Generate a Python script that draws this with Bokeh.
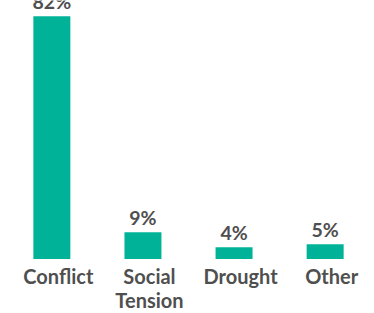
from bokeh.plotting import figure
from bokeh.models import ColumnDataSource, Range1d
from bokeh.embed import file_html
from bokeh.resources import INLINE
from bokeh.core.properties import value

categories = ["Conflict", "Social\nTension", "Drought", "Other"]
values = [82, 9, 4, 5]
value_labels = ["82%", "9%", "4%", "5%"]

BAR_COLOR = "#00b398"
TEXT_COLOR = "#4f4f4f"
FONT = "Lato"

xs = list(range(len(categories)))

p = figure(width=374, height=313, output_backend="svg", toolbar_location=None,
           x_range=Range1d(-0.5637, 3.5417), y_range=Range1d(-18.41, 87.30),
           min_border=0)
p.axis.visible = False
p.grid.visible = False
p.outline_line_color = None
p.background_fill_color = "white"
p.border_fill_color = "white"

src = ColumnDataSource(dict(x=xs, top=values, lab=value_labels))
p.vbar(x="x", top="top", bottom=0, width=0.406, source=src,
       fill_color=BAR_COLOR, line_color=None)

p.text(x="x", y="top", text="lab", source=src, text_align="center",
       text_baseline="alphabetic", y_offset=-15, text_font=value(FONT),
       text_font_style="bold", text_font_size="19.5px", text_color=TEXT_COLOR)

# category labels, one glyph row per line
lx, ly, lt, loff = [], [], [], []
for i, c in enumerate(categories):
    for j, line in enumerate(c.split("\n")):
        lx.append(i)
        ly.append(0)
        lt.append(line)
        loff.append(17 + 24 * j)
lsrc = ColumnDataSource(dict(x=lx, y=ly, t=lt, off=loff))
p.text(x="x", y="y", text="t", source=lsrc, text_align="center",
       text_baseline="alphabetic", x_offset=6.5, y_offset="off",
       text_font=value(FONT), text_font_style="bold", text_font_size="20px",
       text_color=TEXT_COLOR)

open("out.html", "w").write(file_html(p, INLINE))
